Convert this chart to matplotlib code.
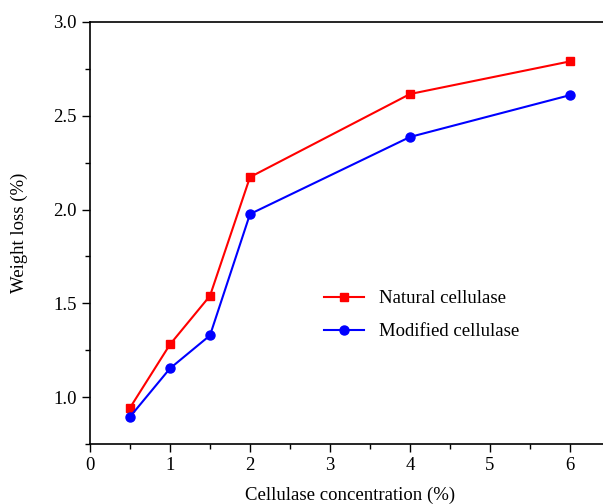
import matplotlib
matplotlib.use("Agg")
import matplotlib.pyplot as plt
from matplotlib.ticker import MultipleLocator

# enzyme concentration (%) and weight loss (%)
conc = [0.5, 1, 1.5, 2, 4, 6]
natural = [0.943, 1.281, 1.54, 2.173, 2.616, 2.79]
modified = [0.895, 1.153, 1.329, 1.976, 2.387, 2.61]

plt.rcParams['font.family'] = ['Liberation Serif', 'DejaVu Serif']

fig = plt.figure(figsize=(6.03, 5.04), dpi=100)
# axes placed in pixel terms, right part runs off the picture
ax = fig.add_axes([90 / 603, (504 - 444) / 504, 520 / 603, 422 / 504])

ax.plot(conc, natural, color='red', marker='s', markersize=6, linewidth=1.5,
        label='Natural cellulase')
ax.plot(conc, modified, color='blue', marker='o', markersize=6.5, linewidth=1.5,
        label='Modified cellulase')

ax.set_xlim(0, 6.5)
ax.set_ylim(0.75, 3.0)
ax.xaxis.set_major_locator(MultipleLocator(1))
ax.xaxis.set_minor_locator(MultipleLocator(0.5))
ax.yaxis.set_major_locator(MultipleLocator(0.5))
ax.yaxis.set_minor_locator(MultipleLocator(0.25))
ax.yaxis.set_major_formatter(plt.FormatStrFormatter('%.1f'))

ax.spines['right'].set_visible(False)
for s in ['left', 'bottom', 'top']:
    ax.spines[s].set_linewidth(1.2)
ax.tick_params(which='both', direction='out', top=False, right=False, labelsize=13.5)
ax.tick_params(which='major', length=6, width=1)
ax.tick_params(which='minor', length=3.5, width=1)

ax.set_xlabel('Cellulase concentration (%)', fontsize=13.5, labelpad=9)
ax.set_ylabel('Weight loss (%)', fontsize=13.5, labelpad=18)

ax.legend(loc='upper left', bbox_to_anchor=(0.418, 0.405), frameon=False,
          fontsize=13.5, handlelength=2.1, labelspacing=0.85)

fig.savefig('out.png', dpi=100)
